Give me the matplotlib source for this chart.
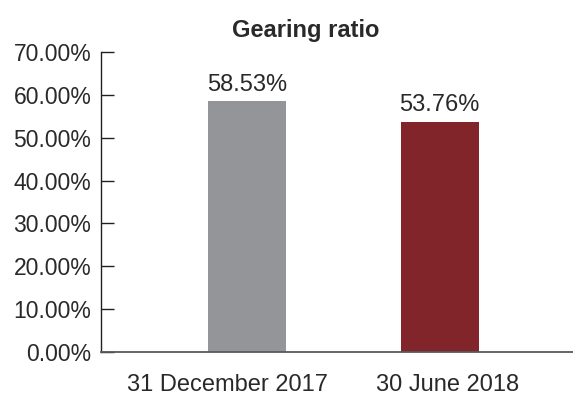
import matplotlib
matplotlib.use("Agg")
import matplotlib.pyplot as plt
from matplotlib.ticker import FuncFormatter, MultipleLocator
import matplotlib.transforms as mtransforms

categories = ["31 December 2017", "30 June 2018"]
values = [58.53, 53.76]
labels = ["58.53%", "53.76%"]
colors = ["#939598", "#82252b"]
title = "Gearing ratio"

plt.rcParams['font.family'] = ['Liberation Sans', 'DejaVu Sans']
txt = "#2b2829"

fig = plt.figure(figsize=(5.73, 4.0), dpi=100)
ax = fig.add_axes([101/573, 48/400, 1 - 101/573, 300/400])

x = list(range(len(categories)))
bars = ax.bar(x, values, width=0.405, color=colors)
for xi, v, lab in zip(x, values, labels):
    ax.annotate(lab, (xi, v), xytext=(0, 4), textcoords="offset points",
                ha="center", va="bottom", fontsize=17, color=txt)

ax.set_xlim(-0.758, 1.693)
ax.set_ylim(0, 70)
ax.yaxis.set_major_locator(MultipleLocator(10))
ax.yaxis.set_major_formatter(FuncFormatter(lambda v, p: f"{v:.2f}%"))
ax.set_xticks(x)
ax.set_xticklabels(categories)
ax.tick_params(axis="y", direction="in", length=9, width=1, color="#231f20",
               labelsize=16.5, labelcolor=txt, pad=7)
ax.tick_params(axis="x", length=0, labelsize=17, labelcolor=txt, pad=16)

offsets = [-19, 8]
for lbl, dx in zip(ax.get_xticklabels(), offsets):
    lbl.set_transform(lbl.get_transform() + mtransforms.ScaledTranslation(dx/100, 0, fig.dpi_scale_trans))

for s in ["top", "right"]:
    ax.spines[s].set_visible(False)
ax.spines["left"].set_color("#231f20")
ax.spines["bottom"].set_color("#58595b")
ax.spines["left"].set_linewidth(1.0)
ax.spines["bottom"].set_linewidth(1.3)

fig.text(306/573, 1 - 30/400, title, ha="center", va="center",
         fontsize=17, fontweight="bold", color=txt)

fig.savefig("out.png", dpi=100)
